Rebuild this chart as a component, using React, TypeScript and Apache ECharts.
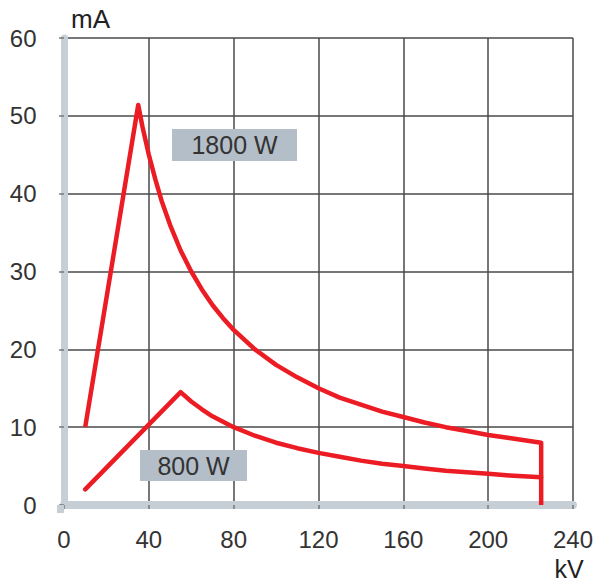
import React, { useEffect, useRef } from "react";
import * as echarts from "echarts";

const xTicks = [0, 40, 80, 120, 160, 200, 240];
const yTicks = [0, 10, 20, 30, 40, 50, 60];

const kv1800 = [10, 35, 37, 40, 43, 46, 50, 55, 60, 65, 70, 75, 80, 90, 100, 110, 120, 130, 140, 150, 160, 170, 180, 190, 200, 210, 225, 225];
const ma1800 = [10, 51.4, 48.6, 45, 41.9, 39.1, 36, 32.7, 30, 27.7, 25.7, 24, 22.5, 20, 18, 16.4, 15, 13.8, 12.9, 12, 11.3, 10.6, 10, 9.5, 9, 8.6, 8, 0];

const kv800 = [10, 55, 60, 65, 70, 75, 80, 90, 100, 110, 120, 130, 140, 150, 160, 170, 180, 190, 200, 210, 225];
const ma800 = [2, 14.5, 13.3, 12.3, 11.4, 10.7, 10, 8.9, 8, 7.3, 6.7, 6.2, 5.7, 5.3, 5, 4.7, 4.4, 4.2, 4, 3.8, 3.56];

const labels = ["1800 W", "800 W"];

const RED = "#ec1c24";
const BAR = "#c6ced6";
const GRIDC = "#4a4a4a";
const TXT = "#333333";
const FONT = "'Liberation Sans', Arial, sans-serif";

export default function App() {
  const ref = useRef<HTMLDivElement>(null);
  useEffect(() => {
    if (!ref.current) return;
    const chart = echarts.init(ref.current, undefined, { renderer: "svg" });
    const zip = (xs: number[], ys: number[]) => xs.map((x, i) => [x, ys[i]]);
    chart.setOption({
      animation: false,
      backgroundColor: "#ffffff",
      textStyle: { fontFamily: FONT },
      grid: { left: 64, right: 22, top: 38, bottom: 80, containLabel: false },
      xAxis: {
        type: "value",
        min: xTicks[0],
        max: xTicks[xTicks.length - 1],
        interval: 40,
        offset: 4,
        axisLine: { show: true, lineStyle: { color: BAR, width: 8 } },
        axisTick: { show: true, length: 4, lineStyle: { color: "#777", width: 1.5 } },
        axisLabel: { fontSize: 24, color: TXT, margin: 18, fontFamily: FONT },
        splitLine: { show: true, lineStyle: { color: GRIDC, width: 1.5 } },
      },
      yAxis: {
        type: "value",
        min: yTicks[0],
        max: yTicks[yTicks.length - 1],
        interval: 10,
        offset: 3.5,
        axisLine: { show: true, lineStyle: { color: BAR, width: 7 } },
        axisTick: { show: true, length: 5, lineStyle: { color: "#777", width: 1.5 } },
        axisLabel: { fontSize: 24, color: TXT, margin: 24, fontFamily: FONT, padding: [0, 0, 9, 0] },
        splitLine: { show: true, lineStyle: { color: GRIDC, width: 1.5 } },
      },
      series: [
        {
          type: "line",
          name: labels[0],
          data: zip(kv1800, ma1800),
          showSymbol: false,
          symbol: "none",
          lineStyle: { color: RED, width: 4.5, join: "round", cap: "butt" },
          z: 5,
        },
        {
          type: "line",
          name: labels[1],
          data: zip(kv800, ma800),
          showSymbol: false,
          symbol: "none",
          lineStyle: { color: RED, width: 4.5, join: "round", cap: "round" },
          z: 5,
        },
      ],
      graphic: [
        { type: "rect", shape: { x: 57, y: 505, width: 7, height: 8 }, style: { fill: BAR }, z: 1 },
        { type: "rect", shape: { x: 172, y: 129, width: 125, height: 32 }, style: { fill: "#b4bec8" }, z: 10 },
        {
          type: "text", x: 234.5, y: 145, z: 11,
          style: { text: labels[0], fontSize: 25, fill: TXT, fontFamily: FONT, align: "center", verticalAlign: "middle" },
        },
        { type: "rect", shape: { x: 140, y: 450, width: 107, height: 31 }, style: { fill: "#b4bec8" }, z: 10 },
        {
          type: "text", x: 193.5, y: 465.5, z: 11,
          style: { text: labels[1], fontSize: 25, fill: TXT, fontFamily: FONT, align: "center", verticalAlign: "middle" },
        },
        {
          type: "text", x: 71, y: 19, z: 11,
          style: { text: "mA", fontSize: 26, fill: "#222", fontFamily: FONT, align: "left", verticalAlign: "middle" },
        },
        {
          type: "text", x: 569, y: 569, z: 11,
          style: { text: "kV", fontSize: 25, fill: "#222", fontFamily: FONT, align: "center", verticalAlign: "middle" },
        },
      ],
    });
    return () => chart.dispose();
  }, []);
  return (
    <div
      ref={ref}
      style={{ position: "absolute", left: 0, top: 0, width: 596, height: 585 }}
    />
  );
}
